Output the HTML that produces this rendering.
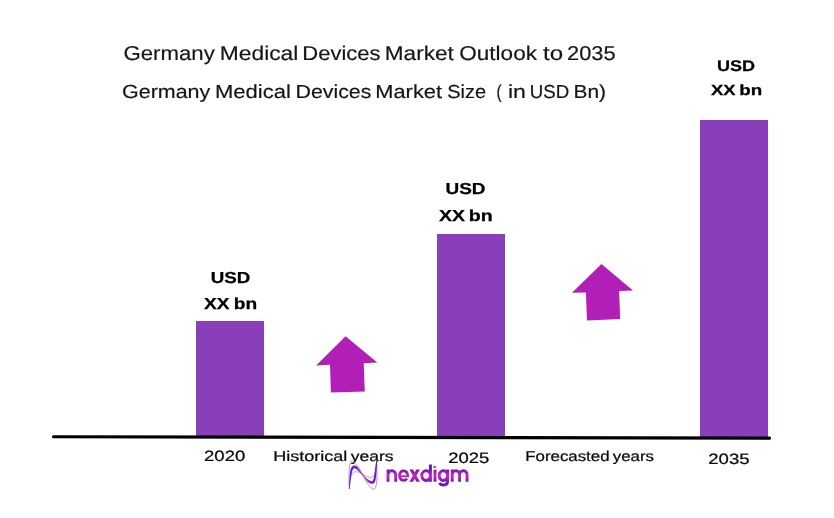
<!DOCTYPE html>
<html>
<head>
<meta charset="utf-8">
<title>Germany Medical Devices Market Outlook to 2035</title>
<style>
  html, body { margin: 0; padding: 0; background: #ffffff; }
  body { width: 834px; height: 518px; overflow: hidden; position: relative; font-family: "Liberation Sans", sans-serif; }
  svg { display: block; position: absolute; left: 0; top: 0; will-change: transform; }
  text { font-family: "Liberation Sans", sans-serif; text-rendering: geometricPrecision; }
  .t1 { font-size: 20px; fill: #161616; stroke: #161616; stroke-width: 0.18px; }
  .t2 { font-size: 18.9px; fill: #161616; stroke: #161616; stroke-width: 0.18px; }
  .lb { font-size: 15.9px; font-weight: bold; fill: #000; stroke: #000; stroke-width: 0.25px; }
  .l3 { font-size: 15.35px; font-weight: bold; fill: #000; stroke: #000; stroke-width: 0.25px; }
  .ax { font-size: 14.2px; fill: #0a0a0a; stroke: #0a0a0a; stroke-width: 0.24px; }
  .yr { font-size: 14.95px; fill: #0a0a0a; stroke: #0a0a0a; stroke-width: 0.24px; }
  .logo { font-size: 22.6px; font-weight: bold; }
</style>
</head>
<body>
<svg width="834" height="518" viewBox="0 0 834 518">
  <defs>
    <linearGradient id="gtxt" gradientUnits="userSpaceOnUse" x1="0" y1="464" x2="0" y2="486.5">
      <stop offset="0" stop-color="#4a1ec4"/>
      <stop offset="0.24" stop-color="#6418b8"/>
      <stop offset="0.38" stop-color="#a01cb8"/>
      <stop offset="0.53" stop-color="#c824ba"/>
      <stop offset="0.68" stop-color="#9c1cba"/>
      <stop offset="0.80" stop-color="#641abc"/>
      <stop offset="1" stop-color="#4a20c8"/>
    </linearGradient>
    <linearGradient id="gwave2" gradientUnits="userSpaceOnUse" x1="349" y1="0" x2="377" y2="0">
      <stop offset="0" stop-color="#9464de"/>
      <stop offset="0.3" stop-color="#a866d8"/>
      <stop offset="0.55" stop-color="#c862d0"/>
      <stop offset="0.8" stop-color="#a05ad6"/>
      <stop offset="1" stop-color="#8454dc"/>
    </linearGradient>
    <linearGradient id="gwave" gradientUnits="userSpaceOnUse" x1="349" y1="0" x2="377" y2="0">
      <stop offset="0" stop-color="#5b1cc6"/>
      <stop offset="0.25" stop-color="#6a1fc6"/>
      <stop offset="0.55" stop-color="#b63cc8"/>
      <stop offset="0.8" stop-color="#7a22c4"/>
      <stop offset="1" stop-color="#5b1cc6"/>
    </linearGradient>
  </defs>

  <!-- chart titles -->
  <text class="t1" x="123.50" y="59.70" textLength="91.26" lengthAdjust="spacingAndGlyphs">Germany</text>
  <text class="t1" x="219.75" y="59.70" textLength="78.62" lengthAdjust="spacingAndGlyphs">Medical</text>
  <text class="t1" x="302.25" y="59.70" textLength="78.32" lengthAdjust="spacingAndGlyphs">Devices</text>
  <text class="t1" x="384.75" y="59.70" textLength="69.04" lengthAdjust="spacingAndGlyphs">Market</text>
  <text class="t1" x="459.25" y="59.70" textLength="77.76" lengthAdjust="spacingAndGlyphs">Outlook</text>
  <text class="t1" x="543.00" y="59.70" textLength="20.08" lengthAdjust="spacingAndGlyphs">to</text>
  <text class="t1" x="567.00" y="59.70" textLength="48.56" lengthAdjust="spacingAndGlyphs">2035</text>
  <text class="t2" x="122.00" y="97.50" textLength="88.26" lengthAdjust="spacingAndGlyphs">Germany</text>
  <text class="t2" x="215.00" y="97.50" textLength="75.87" lengthAdjust="spacingAndGlyphs">Medical</text>
  <text class="t2" x="295.50" y="97.50" textLength="75.82" lengthAdjust="spacingAndGlyphs">Devices</text>
  <text class="t2" x="375.25" y="97.50" textLength="66.80" lengthAdjust="spacingAndGlyphs">Market</text>
  <text class="t2" x="447.25" y="97.50" textLength="38.82" lengthAdjust="spacingAndGlyphs">Size</text>
  <text class="t2" x="496.50" y="97.50" textLength="5.12" lengthAdjust="spacingAndGlyphs">(</text>
  <text class="t2" x="508.00" y="97.50" textLength="17.94" lengthAdjust="spacingAndGlyphs">in</text>
  <text class="t2" x="529.75" y="97.50" textLength="39.36" lengthAdjust="spacingAndGlyphs">USD</text>
  <text class="t2" x="573.50" y="97.50" textLength="32.51" lengthAdjust="spacingAndGlyphs">Bn)</text>
  <text class="lb" x="210.75" y="283.10" textLength="39.56" lengthAdjust="spacingAndGlyphs">USD</text>
  <text class="lb" x="204.00" y="309.35" textLength="25.50" lengthAdjust="spacingAndGlyphs">XX</text>
  <text class="lb" x="233.75" y="309.35" textLength="23.46" lengthAdjust="spacingAndGlyphs">bn</text>
  <text class="lb" x="445.50" y="193.80" textLength="40.06" lengthAdjust="spacingAndGlyphs">USD</text>
  <text class="lb" x="439.00" y="220.50" textLength="26.00" lengthAdjust="spacingAndGlyphs">XX</text>
  <text class="lb" x="468.75" y="220.50" textLength="23.95" lengthAdjust="spacingAndGlyphs">bn</text>
  <text class="l3" x="717.00" y="70.60" textLength="38.06" lengthAdjust="spacingAndGlyphs" style="font-size:15.4px">USD</text>
  <text class="l3" x="711.00" y="95.20" textLength="24.50" lengthAdjust="spacingAndGlyphs" style="font-size:14.7px">XX</text>
  <text class="l3" x="739.25" y="95.20" textLength="22.94" lengthAdjust="spacingAndGlyphs" style="font-size:14.7px">bn</text>
  <text class="yr" x="204.00" y="461.10" textLength="41.29" lengthAdjust="spacingAndGlyphs">2020</text>
  <text class="ax" x="273.25" y="460.80" textLength="74.08" lengthAdjust="spacingAndGlyphs">Historical</text>
  <text class="ax" x="350.75" y="460.80" textLength="42.75" lengthAdjust="spacingAndGlyphs">years</text>
  <text class="yr" x="448.25" y="462.80" textLength="41.05" lengthAdjust="spacingAndGlyphs">2025</text>
  <text class="ax" x="525.25" y="461.20" textLength="84.30" lengthAdjust="spacingAndGlyphs">Forecasted</text>
  <text class="ax" x="612.75" y="461.20" textLength="41.26" lengthAdjust="spacingAndGlyphs">years</text>
  <text class="yr" x="708.25" y="463.70" textLength="41.30" lengthAdjust="spacingAndGlyphs">2035</text>

  <!-- bars -->
  <rect x="196" y="321" width="68" height="116" fill="#8a3fba"/>
  <rect x="437" y="234" width="68" height="203.5" fill="#8a3fba"/>
  <rect x="700" y="120" width="68" height="318" fill="#8a3fba"/>

  <!-- baseline -->
  <line x1="53.5" y1="436.75" x2="769.5" y2="438.15" stroke="#000" stroke-width="3.1" stroke-linecap="round"/>

  <!-- growth arrows -->
  <polygon fill="#b11fb7" points="345.6,336.3 377.3,362.5 363.7,363.3 364.8,391.4 330.9,392.6 330.0,364.8 316.1,365.5"/>
  <polygon fill="#b11fb7" points="601.4,264.0 633.0,290.5 619.1,291.0 620.2,319.1 587.0,320.5 585.9,292.4 572.0,292.8"/>

  <!-- logo -->
  <g>
    <path d="M349.30,488.60 L349.26,487.27 L349.21,485.94 L349.16,484.60 L349.11,483.26 L349.07,481.93 L349.03,480.61 L349.01,479.30 L349.00,478.00 L349.00,476.69 L349.01,475.35 L349.03,474.01 L349.06,472.68 L349.10,471.39 L349.15,470.17 L349.22,469.03 L349.30,468.00 L349.40,467.07 L349.51,466.22 L349.64,465.45 L349.78,464.74 L349.93,464.09 L350.09,463.51 L350.24,462.98 L350.40,462.50 L350.56,462.08 L350.72,461.73 L350.89,461.44 L351.06,461.20 L351.23,461.01 L351.41,460.87 L351.60,460.77 L351.80,460.70 L352.00,460.67 L352.20,460.68 L352.40,460.74 L352.61,460.84 L352.83,460.98 L353.06,461.15 L353.32,461.36 L353.60,461.60 L353.91,461.89 L354.25,462.23 L354.60,462.61 L354.98,463.03 L355.36,463.46 L355.74,463.91 L356.13,464.36 L356.50,464.80 L356.87,465.23 L357.25,465.65 L357.62,466.07 L358.00,466.51 L358.38,466.96 L358.75,467.44 L359.13,467.95 L359.50,468.50 L359.87,469.10 L360.23,469.74 L360.59,470.41 L360.94,471.11 L361.30,471.82 L361.66,472.55 L362.03,473.28 L362.40,474.00 L362.78,474.73 L363.15,475.48 L363.53,476.24 L363.91,477.00 L364.30,477.76 L364.69,478.52 L365.09,479.27 L365.50,480.00 L365.92,480.73 L366.35,481.47 L366.80,482.20 L367.24,482.93 L367.69,483.64 L368.14,484.31 L368.57,484.93 L369.00,485.50 L369.42,486.02 L369.84,486.51 L370.27,486.97 L370.68,487.38 L371.09,487.76 L371.48,488.09 L371.85,488.37 L372.20,488.60 L372.53,488.78 L372.83,488.92 L373.12,489.02 L373.40,489.07 L373.66,489.07 L373.92,489.03 L374.16,488.94 L374.40,488.80 L374.63,488.61 L374.86,488.36 L375.07,488.07 L375.28,487.72 L375.48,487.34 L375.66,486.93 L375.84,486.48 L376.00,486.00 L376.15,485.51 L376.29,485.00 L376.42,484.46 L376.54,483.89 L376.65,483.26 L376.75,482.58 L376.83,481.83 L376.90,481.00 L376.95,480.08 L376.99,479.08 L377.01,478.01 L377.02,476.88 L377.03,475.70 L377.02,474.48 L377.01,473.25 L377.00,472.00 L376.98,470.72 L376.95,469.39 L376.92,468.02 L376.88,466.62 L376.83,465.21 L376.78,463.80 L376.74,462.39 L376.70,461.00" fill="none" stroke="url(#gwave2)" stroke-width="0.8" stroke-linecap="round" stroke-linejoin="round" opacity="0.95"/>
    <path d="M349.30,488.60 L349.41,487.57 L349.52,486.50 L349.62,485.43 L349.73,484.36 L349.84,483.31 L349.95,482.31 L350.07,481.36 L350.20,480.50 L350.33,479.71 L350.46,478.98 L350.60,478.31 L350.74,477.68 L350.89,477.08 L351.05,476.53 L351.22,476.00 L351.40,475.50 L351.59,475.02 L351.79,474.58 L352.00,474.17 L352.21,473.79 L352.44,473.45 L352.68,473.14 L352.93,472.85 L353.20,472.60 L353.48,472.38 L353.78,472.20 L354.10,472.05 L354.42,471.93 L354.76,471.83 L355.10,471.77 L355.45,471.72 L355.80,471.70 L356.15,471.70 L356.52,471.74 L356.89,471.81 L357.26,471.89 L357.64,472.00 L358.03,472.12 L358.41,472.26 L358.80,472.40 L359.19,472.56 L359.59,472.74 L359.99,472.93 L360.40,473.14 L360.81,473.36 L361.21,473.58 L361.61,473.79 L362.00,474.00 L362.38,474.20 L362.76,474.40 L363.14,474.61 L363.51,474.81 L363.88,475.01 L364.25,475.21 L364.63,475.41 L365.00,475.60 L365.38,475.79 L365.75,475.99 L366.13,476.18 L366.51,476.38 L366.88,476.56 L367.26,476.73 L367.63,476.87 L368.00,477.00 L368.37,477.11 L368.75,477.21 L369.13,477.29 L369.51,477.36 L369.88,477.40 L370.23,477.43 L370.58,477.43 L370.90,477.40 L371.20,477.34 L371.50,477.26 L371.77,477.15 L372.04,477.02 L372.29,476.87 L372.54,476.69 L372.77,476.51 L373.00,476.30 L373.22,476.08 L373.43,475.85 L373.62,475.60 L373.81,475.33 L373.99,475.04 L374.17,474.72 L374.34,474.38 L374.50,474.00 L374.66,473.62 L374.80,473.24 L374.94,472.84 L375.07,472.42 L375.21,471.94 L375.33,471.39 L375.47,470.75 L375.60,470.00 L375.74,469.11 L375.88,468.10 L376.01,466.99 L376.15,465.81 L376.29,464.59 L376.43,463.37 L376.56,462.16 L376.70,461.00" fill="none" stroke="url(#gwave2)" stroke-width="0.8" stroke-linecap="round" stroke-linejoin="round" opacity="0.95"/>
    <path d="M349.57,488.62 L349.66,487.86 L349.75,487.10 L349.84,486.33 L349.93,485.56 L350.02,484.79 L350.11,484.03 L350.20,483.28 L350.29,482.53 L350.39,481.79 L350.48,481.05 L350.58,480.33 L350.68,479.59 L350.77,478.86 L350.87,478.14 L350.97,477.43 L351.08,476.73 L351.18,476.04 L351.30,475.38 L351.42,474.75 L351.54,474.14 L351.68,473.55 L351.82,472.96 L351.96,472.39 L352.10,471.84 L352.25,471.31 L352.41,470.82 L352.57,470.37 L352.73,469.96 L352.89,469.61 L353.05,469.31 L353.21,469.07 L353.37,468.86 L353.54,468.69 L353.69,468.56 L353.84,468.45 L353.98,468.37 L354.10,468.31 L354.22,468.28 L354.32,468.25 L354.41,468.23 L354.46,468.23 L354.52,468.23 L354.62,468.25 L354.75,468.28 L354.91,468.33 L355.10,468.41 L355.31,468.51 L355.54,468.64 L355.79,468.79 L356.03,468.94 L356.27,469.10 L356.53,469.30 L356.81,469.54 L357.11,469.80 L357.42,470.09 L357.73,470.40 L358.05,470.72 L358.38,471.05 L358.70,471.37 L359.01,471.69 L359.32,472.00 L359.63,472.31 L359.93,472.62 L360.24,472.94 L360.54,473.26 L360.84,473.59 L361.14,473.91 L361.44,474.24 L361.73,474.58 L362.02,474.91 L362.29,475.25 L362.56,475.60 L362.83,475.95 L363.09,476.30 L363.35,476.66 L363.61,477.03 L363.88,477.39 L364.15,477.75 L364.42,478.11 L364.71,478.46 L364.99,478.81 L365.28,479.16 L365.57,479.52 L365.87,479.89 L366.17,480.25 L366.48,480.60 L366.79,480.94 L367.11,481.28 L367.44,481.59 L367.78,481.88 L368.11,482.15 L368.46,482.41 L368.81,482.66 L369.17,482.90 L369.54,483.12 L369.90,483.32 L370.28,483.49 L370.66,483.64 L371.04,483.76 L371.43,483.84 L371.81,483.87 L372.17,483.87 L372.54,483.83 L372.91,483.73 L373.27,483.59 L373.60,483.40 L373.90,483.17 L374.17,482.91 L374.41,482.63 L374.63,482.32 L374.83,481.99 L375.00,481.63 L375.14,481.26 L375.26,480.87 L375.37,480.47 L375.47,480.05 L375.56,479.61 L375.65,479.16 L375.73,478.70 L375.81,478.21 L375.90,477.68 L375.97,477.11 L376.04,476.52 L376.11,475.90 L376.17,475.27 L376.23,474.62 L376.29,473.98 L376.34,473.34 L376.40,472.71 L376.45,472.10 L376.50,471.49 L376.55,470.87 L376.60,470.25 L376.64,469.63 L376.69,469.01 L376.73,468.40 L376.77,467.80 L376.80,467.20 L376.84,466.63 L376.87,466.07 L376.90,465.52 L376.93,465.00 L376.95,464.49 L376.98,463.99 L377.00,463.49 L377.02,463.00 L377.04,462.52 L377.06,462.03 L377.08,461.54 L377.10,461.04 L376.30,460.96 L376.22,461.45 L376.14,461.94 L376.07,462.42 L375.99,462.90 L375.91,463.38 L375.84,463.87 L375.76,464.37 L375.68,464.87 L375.61,465.39 L375.53,465.93 L375.45,466.49 L375.38,467.07 L375.30,467.66 L375.23,468.26 L375.15,468.86 L375.08,469.48 L375.00,470.09 L374.92,470.70 L374.84,471.30 L374.75,471.90 L374.66,472.51 L374.57,473.14 L374.49,473.77 L374.40,474.41 L374.30,475.03 L374.21,475.65 L374.11,476.24 L374.01,476.80 L373.90,477.32 L373.79,477.79 L373.67,478.24 L373.55,478.67 L373.43,479.07 L373.30,479.44 L373.18,479.77 L373.05,480.07 L372.92,480.33 L372.80,480.55 L372.68,480.73 L372.57,480.88 L372.46,480.99 L372.37,481.07 L372.29,481.11 L372.23,481.14 L372.18,481.15 L372.14,481.15 L372.09,481.16 L372.01,481.16 L371.90,481.16 L371.77,481.16 L371.61,481.15 L371.42,481.11 L371.18,481.05 L370.91,480.97 L370.61,480.87 L370.31,480.75 L369.99,480.61 L369.66,480.46 L369.34,480.29 L369.02,480.12 L368.72,479.94 L368.39,479.73 L368.06,479.50 L367.72,479.25 L367.38,478.99 L367.04,478.71 L366.69,478.43 L366.35,478.13 L366.02,477.84 L365.69,477.54 L365.39,477.25 L365.08,476.94 L364.78,476.63 L364.49,476.31 L364.20,475.99 L363.91,475.65 L363.63,475.32 L363.34,474.98 L363.06,474.63 L362.78,474.29 L362.51,473.94 L362.24,473.59 L361.98,473.23 L361.72,472.88 L361.46,472.51 L361.20,472.15 L360.95,471.79 L360.69,471.42 L360.44,471.06 L360.19,470.71 L359.94,470.35 L359.70,469.98 L359.45,469.60 L359.21,469.21 L358.96,468.82 L358.70,468.44 L358.44,468.06 L358.16,467.70 L357.87,467.36 L357.57,467.06 L357.27,466.80 L356.98,466.55 L356.67,466.33 L356.35,466.12 L356.02,465.93 L355.66,465.77 L355.27,465.64 L354.86,465.56 L354.43,465.53 L353.99,465.57 L353.59,465.66 L353.22,465.80 L352.86,465.98 L352.52,466.20 L352.20,466.46 L351.90,466.76 L351.63,467.10 L351.38,467.46 L351.15,467.86 L350.95,468.29 L350.77,468.75 L350.62,469.24 L350.49,469.75 L350.37,470.29 L350.27,470.85 L350.18,471.43 L350.09,472.02 L350.01,472.63 L349.93,473.24 L349.86,473.86 L349.78,474.50 L349.71,475.17 L349.65,475.85 L349.59,476.56 L349.54,477.27 L349.49,478.00 L349.44,478.73 L349.40,479.47 L349.36,480.21 L349.32,480.95 L349.28,481.69 L349.24,482.44 L349.21,483.20 L349.18,483.96 L349.16,484.73 L349.13,485.50 L349.11,486.27 L349.08,487.05 L349.06,487.81 L349.03,488.58Z" fill="url(#gwave)"/>
  </g>
  <g fill="none" stroke="url(#gtxt)" stroke-width="2.9" stroke-linecap="butt">
    <path d="M388.05,469.45V481.75 M388.05,474.62A3.82,3.82 0 0 1 395.70,474.62V481.75 M430.45,475.60A4.35,4.85 0 1 0 430.45,475.61 M430.45,464.4V481.75 M435.0,469.65V481.75 M447.55,475.60A4.20,4.85 0 1 0 447.55,475.61 M447.55,469.45V481.2C447.55,484.2 445.6,484.95 443.4,484.95C441.6,484.95 440.1,484.2 439.3,482.9 M452.20,469.45V481.75M452.20,474.50A3.70,3.70 0 0 1 459.60,474.50V481.75M459.60,474.50A3.72,3.72 0 0 1 467.05,474.50V481.75"/>
    <path d="M407.75,476.25A4.15,4.85 0 1 0 406.92,478.59" stroke-width="2.75"/>
    <path d="M399.50,476.25H409.00" stroke-width="1.9"/>
  </g>
  <path d="M409.45,469.45H413.00L419.90,481.75H416.35ZM416.35,469.45H419.90L413.00,481.75H409.45Z" fill="url(#gtxt)"/>
  <path d="M433.55,465.2L436.9,466.95L433.55,468.6Z" fill="#c02cc0"/>
</svg>
</body>
</html>
